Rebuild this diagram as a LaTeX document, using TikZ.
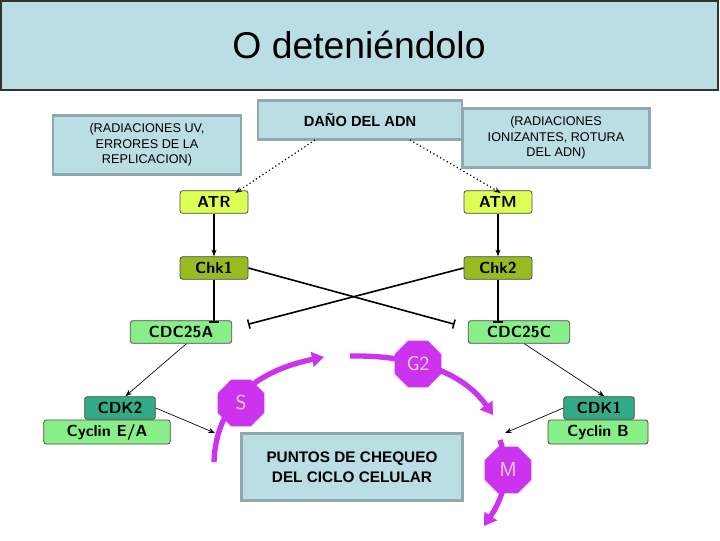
\documentclass[tikz,border=0pt]{standalone}
\usepackage{fontspec}
\setmainfont{Liberation Sans}
\usetikzlibrary{shapes.geometric,arrows.meta}
\definecolor{lb}{HTML}{BADEE3}
\definecolor{lbb}{HTML}{8FA9AE}
\definecolor{ylg}{HTML}{DDFF55}
\definecolor{olg}{HTML}{99BB22}
\definecolor{lg}{HTML}{88EE88}
\definecolor{tg}{HTML}{33AA88}
\definecolor{mag}{HTML}{CC33EE}
\begin{document}
\begin{tikzpicture}[x=0.75pt,y=-0.75pt,
  infobox/.style={draw=lbb,line width=2pt,fill=lb,align=center,inner sep=0pt,font=\fontsize{9.5}{11.5}\selectfont},
  gbox/.style={draw=black!70,line width=0.6pt,rounded corners=2pt,inner sep=0pt,font=\sffamily\bfseries\fontsize{12}{12}\selectfont},
  phase/.style={regular polygon,regular polygon sides=8,fill=mag,inner sep=0pt,minimum size=38pt,text=pink!60!white,font=\sffamily\fontsize{15}{15}\selectfont},
  cyc/.style={draw=mag,line width=4pt,-{Triangle[length=9pt,width=11pt]}},
  act/.style={-{Stealth[length=5pt]},line width=0.8pt},
  inh/.style={-{Bar[width=7pt]},line width=1.2pt}]
\useasboundingbox (0,0) rectangle (720,540);
\fill[white] (0,0) rectangle (720,540);
\fill[lb,draw=black!80,line width=1pt] (1,1) rectangle (718,90);
\node (tt) at (359,45) {\fontsize{28}{30}\selectfont O deteniéndolo};
\node[infobox,minimum width=141pt,minimum height=44pt] (uv) at (147,145) {(RADIACIONES UV,\\ERRORES DE LA\\REPLICACION)};
\node[infobox,minimum width=153pt,minimum height=29pt,font=\bfseries\fontsize{11}{12}\selectfont] (dano) at (360,120) {DAÑO DEL ADN};
\node[infobox,minimum width=140pt,minimum height=44pt] (ion) at (556,138) {(RADIACIONES\\IONIZANTES, ROTURA\\DEL ADN)};
\node[infobox,minimum width=166pt,minimum height=50pt,font=\bfseries\fontsize{11.5}{15}\selectfont] (pc) at (352,467) {PUNTOS DE CHEQUEO\\DEL CICLO CELULAR};
\node[gbox,fill=ylg,minimum width=51pt,minimum height=17pt] (atr) at (214,202) {ATR};
\node[gbox,fill=ylg,minimum width=51pt,minimum height=17pt] (atm) at (498,202) {ATM};
\node[gbox,fill=olg,minimum width=51pt,minimum height=17pt] (chk1) at (214,268) {Chk1};
\node[gbox,fill=olg,minimum width=51pt,minimum height=17pt] (chk2) at (498,268) {Chk2};
\node[gbox,fill=lg,minimum width=76pt,minimum height=17pt] (c25a) at (181,332) {CDC25A};
\node[gbox,fill=lg,minimum width=76pt,minimum height=17pt] (c25c) at (519,332) {CDC25C};
\node[gbox,fill=tg,minimum width=53pt,minimum height=17pt] (cdk2) at (120,408) {CDK2};
\node[gbox,fill=lg,minimum width=95pt,minimum height=18pt] (cea) at (107,432) {Cyclin E/A};
\node[gbox,fill=tg,minimum width=53pt,minimum height=17pt] (cdk1) at (599,408) {CDK1};
\node[gbox,fill=lg,minimum width=75pt,minimum height=18pt] (cb) at (598,432) {Cyclin B};
\coordinate (sEnd) at (215,433);
\coordinate (mEnd) at (505,433);
\coordinate (d1) at (315,140);
\coordinate (d2) at (410,140);
% dotted
\draw[dotted,line width=0.9pt,-{Stealth[length=5pt]}] (d1) -- ([xshift=16,yshift=-2]atr.north);
\draw[dotted,line width=0.9pt,-{Stealth[length=5pt]}] (d2) -- ([xshift=2,yshift=-2]atm.north);
\draw[act] (atr) -- (chk1);
\draw[act] (atm) -- (chk2);
\draw[inh] (chk1.south) -- ([yshift=-2]chk1.south |- c25a.north);
\draw[inh] (chk2.south) -- ([yshift=-2]chk2.south |- c25c.north);
\draw[inh] (chk1.east) -- ([xshift=-10,yshift=-3]c25c.north west);
\draw[inh] (chk2.west) -- ([xshift=12,yshift=-3]c25a.north east);
\draw[-{Stealth[length=5pt]},line width=0.5pt] ([xshift=4]c25a.south) -- ([xshift=4]cdk2.north);
\draw[-{Stealth[length=5pt]},line width=0.5pt] ([xshift=4]c25c.south) -- ([xshift=4]cdk1.north);
\draw[-{Stealth[length=5pt]},line width=0.5pt] (cdk2.east) -- (sEnd);
\draw[-{Stealth[length=5pt]},line width=0.5pt] (cdk1.west) -- (mEnd);
% cycle
\draw[cyc] (214,462) .. controls (216,400) and (260,370) .. (324,357);
\draw[cyc] (350,356) .. controls (420,355) and (465,375) .. (493,415);
\draw[cyc] (500,440) .. controls (510,470) and (505,495) .. (484,526);
\node[phase] (s) at (241,403) {S};
\node[phase] (g2) at (418,364) {G2};
\node[phase] (m) at (508,470) {M};
\end{tikzpicture}
\end{document}
